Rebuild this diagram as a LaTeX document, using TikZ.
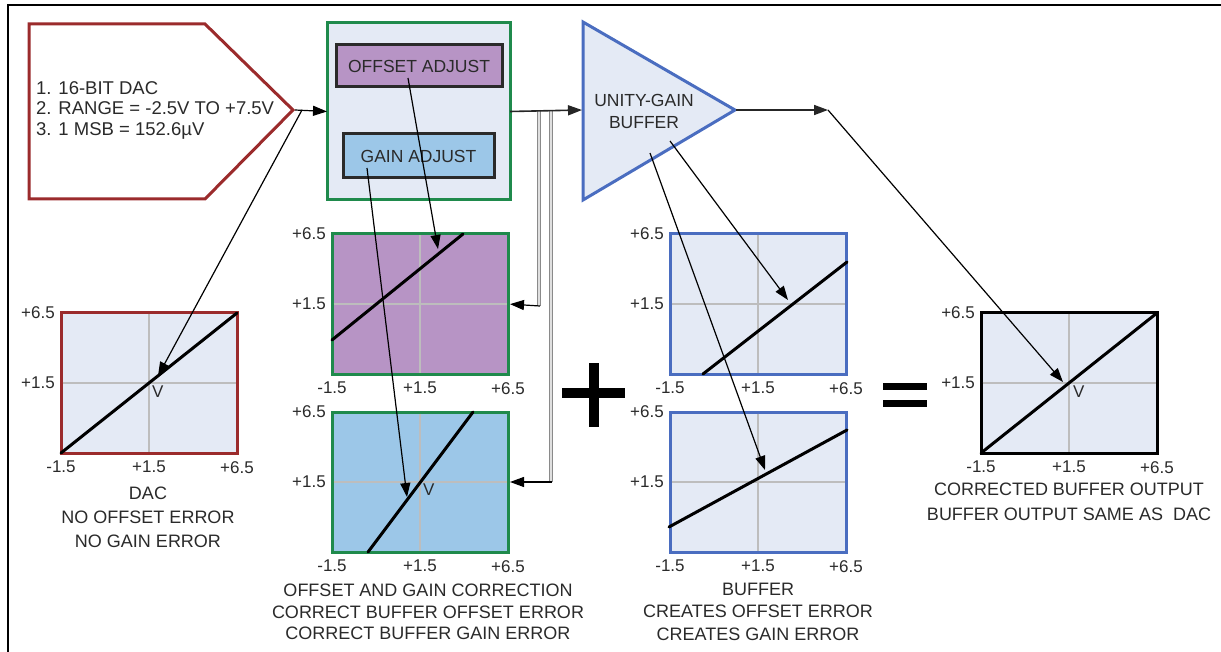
\documentclass[tikz,border=0pt]{standalone}
\usepackage{fontspec}
\setmainfont{Liberation Sans}
\usetikzlibrary{arrows.meta}
\definecolor{dacred}{HTML}{9B2B2C}
\definecolor{grn}{HTML}{1F8A4C}
\definecolor{blu}{HTML}{4A6DC0}
\definecolor{paper}{HTML}{E4EAF5}
\definecolor{purp}{HTML}{B794C5}
\definecolor{sky}{HTML}{9CC7E8}
\definecolor{txt}{HTML}{2A2A2A}
\definecolor{gridc}{HTML}{BDBDBD}
\definecolor{feedc}{HTML}{8A8A8A}
\newcommand\mkplot[5]{%
  \node[plot, draw=#4, fill=#5] (#1) at (#2,#3) {};
  \draw[gridline] (#1.north) -- (#1.south);
  \draw[gridline] (#1.west) -- (#1.east);
  \node[lbl, anchor=east] (#1-yt) at ([xshift=-6pt]#1.north west) {+6.5};
  \node[lbl, anchor=east] (#1-ym) at ([xshift=-6pt]#1.west) {+1.5};
  \node[lbl, anchor=north] (#1-xl) at ([yshift=-8pt]#1.south west) {-1.5};
  \node[lbl, anchor=north] (#1-xm) at ([yshift=-8pt]#1.south) {+1.5};
  \node[lbl, anchor=north] (#1-xr) at ([yshift=-8pt]#1.south east) {+6.5};
}
\begin{document}
\begin{tikzpicture}[x=1pt,y=-1pt,
  lbl/.style={font=\fontsize{17}{17}\selectfont, text=txt, inner sep=0pt},
  cap/.style={font=\fontsize{18}{#1}\selectfont, text=txt, align=center, inner sep=0pt},
  plot/.style={rectangle, minimum width=176pt, minimum height=140pt, line width=3pt, inner sep=0pt, outer sep=0pt},
  gridline/.style={draw=gridc, line width=1.5pt, shorten <=1.5pt, shorten >=1.5pt},
  curve/.style={line width=3pt, line cap=round},
  conn/.style={draw=black, line width=1.2pt, -{Triangle[length=14pt,width=10pt]}},
  feed/.style={draw=feedc, line width=1.3pt, double=gray!25, double distance=1.3pt},
  adj/.style={draw=txt, line width=3pt, inner sep=0pt, outer sep=0pt, font=\fontsize{17.5}{17.5}\selectfont, text=txt},
]
\useasboundingbox (0,0) rectangle (1221,652);
% frame
\draw[line width=2pt] (8,652) -- (8,5) -- (1221,5);

% DAC pentagon
\draw[dacred, line width=3pt, fill=white, line join=miter] (29,24) -- (205,24) -- (293,110) -- (205,199) -- (29,199) -- cycle;
\coordinate (dactip) at (295,110);
\node[anchor=west, align=left, inner sep=0pt, text=txt, font=\fontsize{18.5}{20.5}\selectfont] (dactext) at (36,110)
  {1. 16-BIT DAC\\2. RANGE = -2.5V TO +7.5V\\3. 1 MSB = 152.6µV};

% correction block
\node[draw=grn, fill=paper, line width=3pt, outer sep=0pt, minimum width=183pt, minimum height=177pt] (corr) at (418.5,111.5) {};
\node[adj, fill=purp, minimum width=166pt, minimum height=42pt] (offadj) at (419,66) {OFFSET ADJUST};
\node[adj, fill=sky, minimum width=151pt, minimum height=44pt] (gainadj) at (418.5,156) {GAIN ADJUST};

% buffer triangle
\draw[blu, line width=3pt, fill=paper, line join=miter] (583,22) -- (735,110) -- (583,200) -- cycle;
\node[inner sep=0pt, align=center, text=txt, font=\fontsize{17.5}{22}\selectfont] (buftext) at (644,111) {UNITY-GAIN\\BUFFER};
\coordinate (trin) at (582,110);
\coordinate (trtip) at (736,110);

% plots
\mkplot{dacg}{149}{383}{dacred}{paper}
\mkplot{offg}{420}{304}{grn}{purp}
\mkplot{gaing}{420}{482}{grn}{sky}
\mkplot{buf1}{758}{304}{blu}{paper}
\mkplot{buf2}{758}{482}{blu}{paper}
\mkplot{outg}{1069}{383}{black}{paper}

% data lines
\draw[curve] (dacg.south west) -- (dacg.north east);
\draw[curve] (332,340) -- (463,234);
\draw[curve] (368,552) -- (473,412);
\draw[curve] (703,374) -- (847,262);
\draw[curve] (669,527) -- (847,430);
\draw[curve] (outg.south west) -- (outg.north east);

% V marks
\node[lbl, anchor=north west] (dacv-l) at ([xshift=3pt,yshift=-3pt]dacg.center) {V};
\node[lbl, anchor=north west] (gainv-l) at ([xshift=3pt,yshift=-2pt]gaing.center) {V};
\node[lbl, anchor=north west] (outv-l) at ([xshift=4pt,yshift=-3pt]outg.center) {V};

% plus and equals
\fill (562,388) rectangle (625,398);
\fill (589,363) rectangle (599,427);
\fill (883,383) rectangle (927,390);
\fill (883,400) rectangle (927,407);

% connectors
\coordinate (dacsplit) at (302,110);
\coordinate (dacv) at (158,376);
\draw[conn] (dactip) -- (corr.west);
\draw[conn] (dacsplit) -- (dacv);

\coordinate (oa) at (408,78);
\coordinate (oat) at (438,249);
\coordinate (ga) at (367,168);
\coordinate (gat) at (407,497);
\draw[conn] (oa) -- (oat);
\draw[conn] (ga) -- (gat);

\coordinate (fa) at (539,110);
\coordinate (fb) at (551,110);
\coordinate (fa2) at (539,306);
\coordinate (fb2) at (551,482);
\draw[feed] (fa) -- (fa2);
\draw[feed] (fb) -- (fb2);
\draw[conn, draw=black!85, line width=1.6pt] (corr.east) -- (trin);
\draw[conn, shorten >=2pt] ([xshift=1pt]fa2) -- (offg.east);
\draw[conn, shorten >=2pt] ([xshift=1pt]fb2) -- (gaing.east);

\coordinate (tra) at (670,141);
\coordinate (b1t) at (788,300);
\coordinate (trb) at (650,153);
\coordinate (b2t) at (765,470);
\draw[conn] (tra) -- (b1t);
\draw[conn] (trb) -- (b2t);

\coordinate (outj) at (828,110);
\coordinate (outv) at (1063,382);
\draw[conn, line width=1.6pt, draw=black!85] (trtip) -- (outj);
\draw[conn] (outj) -- (outv);

% captions
\node[cap=24] (dcap) at (148,517) {DAC\\NO OFFSET ERROR\\NO GAIN ERROR};
\node[cap=21.5] (ocap) at (428,612) {OFFSET AND GAIN CORRECTION\\CORRECT BUFFER OFFSET ERROR\\CORRECT BUFFER GAIN ERROR};
\node[cap=22.5] (bcap) at (758,611.5) {BUFFER\\CREATES OFFSET ERROR\\CREATES GAIN ERROR};
\node[cap=24.5] (rcap) at (1069,502) {CORRECTED BUFFER OUTPUT\\BUFFER OUTPUT SAME AS\ \ DAC};
\end{tikzpicture}
\end{document}
